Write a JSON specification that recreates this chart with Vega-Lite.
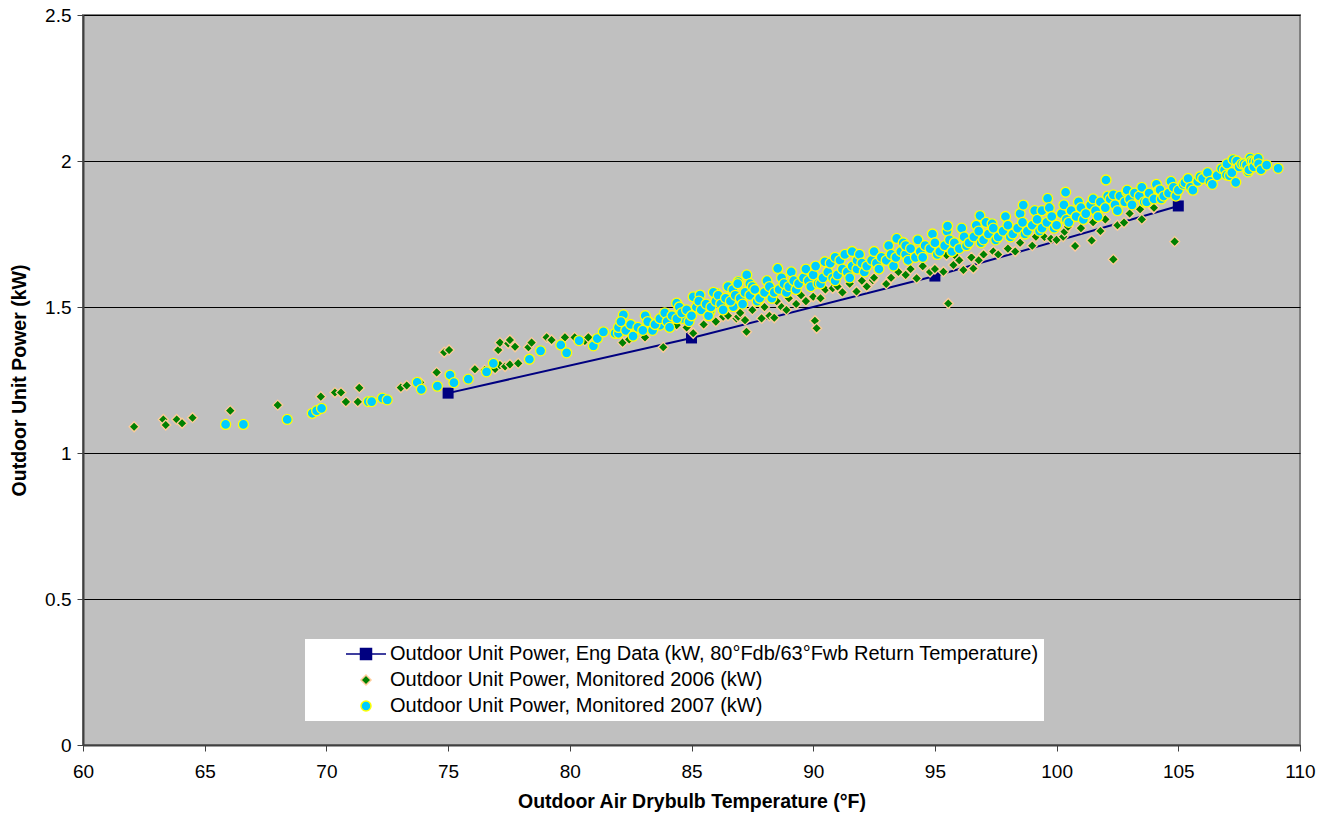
{
  "$schema": "https://vega.github.io/schema/vega-lite/v6.json",
  "width": 1217,
  "height": 730,
  "autosize": "none",
  "padding": {"left": 83, "top": 15, "right": 31, "bottom": 73},
  "background": "white",
  "config": {
    "view": {"fill": "#C0C0C0", "stroke": "#808080", "strokeWidth": 2},
    "font": "Liberation Sans"
  },
  "datasets": {
    "eng": [
      {"t": 75, "p": 1.205},
      {"t": 85, "p": 1.394},
      {"t": 95, "p": 1.606},
      {"t": 105, "p": 1.846}
    ],
    "mon": [
      {"t": 62.1, "p": 1.09, "s": "2006"},
      {"t": 63.3, "p": 1.115, "s": "2006"},
      {"t": 63.4, "p": 1.096, "s": "2006"},
      {"t": 63.85, "p": 1.115, "s": "2006"},
      {"t": 64.07, "p": 1.102, "s": "2006"},
      {"t": 64.5, "p": 1.121, "s": "2006"},
      {"t": 66.05, "p": 1.145, "s": "2006"},
      {"t": 68.0, "p": 1.164, "s": "2006"},
      {"t": 69.77, "p": 1.193, "s": "2006"},
      {"t": 70.35, "p": 1.207, "s": "2006"},
      {"t": 70.6, "p": 1.207, "s": "2006"},
      {"t": 71.35, "p": 1.223, "s": "2006"},
      {"t": 70.8, "p": 1.175, "s": "2006"},
      {"t": 71.29, "p": 1.175, "s": "2006"},
      {"t": 73.06, "p": 1.224, "s": "2006"},
      {"t": 73.3, "p": 1.231, "s": "2006"},
      {"t": 73.85, "p": 1.242, "s": "2006"},
      {"t": 74.53, "p": 1.276, "s": "2006"},
      {"t": 74.84, "p": 1.345, "s": "2006"},
      {"t": 75.04, "p": 1.353, "s": "2006"},
      {"t": 76.1, "p": 1.287, "s": "2006"},
      {"t": 76.5, "p": 1.284, "s": "2006"},
      {"t": 76.93, "p": 1.288, "s": "2006"},
      {"t": 77.13, "p": 1.301, "s": "2006"},
      {"t": 77.34, "p": 1.296, "s": "2006"},
      {"t": 77.54, "p": 1.303, "s": "2006"},
      {"t": 77.88, "p": 1.307, "s": "2006"},
      {"t": 77.06, "p": 1.353, "s": "2006"},
      {"t": 77.13, "p": 1.378, "s": "2006"},
      {"t": 77.47, "p": 1.375, "s": "2006"},
      {"t": 77.75, "p": 1.364, "s": "2006"},
      {"t": 77.54, "p": 1.387, "s": "2006"},
      {"t": 78.3, "p": 1.362, "s": "2006"},
      {"t": 78.43, "p": 1.378, "s": "2006"},
      {"t": 79.05, "p": 1.396, "s": "2006"},
      {"t": 79.25, "p": 1.387, "s": "2006"},
      {"t": 79.8, "p": 1.396, "s": "2006"},
      {"t": 80.2, "p": 1.396, "s": "2006"},
      {"t": 80.62, "p": 1.384, "s": "2006"},
      {"t": 80.76, "p": 1.396, "s": "2006"},
      {"t": 82.17, "p": 1.378, "s": "2006"},
      {"t": 82.44, "p": 1.389, "s": "2006"},
      {"t": 83.09, "p": 1.396, "s": "2006"},
      {"t": 83.84, "p": 1.362, "s": "2006"},
      {"t": 84.39, "p": 1.438, "s": "2006"},
      {"t": 84.8, "p": 1.43, "s": "2006"},
      {"t": 85.07, "p": 1.41, "s": "2006"},
      {"t": 85.5, "p": 1.44, "s": "2006"},
      {"t": 86.0, "p": 1.45, "s": "2006"},
      {"t": 86.3, "p": 1.467, "s": "2006"},
      {"t": 86.5, "p": 1.47, "s": "2006"},
      {"t": 86.85, "p": 1.461, "s": "2006"},
      {"t": 86.92, "p": 1.467, "s": "2006"},
      {"t": 87.0, "p": 1.48, "s": "2006"},
      {"t": 87.2, "p": 1.455, "s": "2006"},
      {"t": 87.26, "p": 1.415, "s": "2006"},
      {"t": 87.5, "p": 1.49, "s": "2006"},
      {"t": 87.88, "p": 1.461, "s": "2006"},
      {"t": 88.0, "p": 1.5, "s": "2006"},
      {"t": 88.2, "p": 1.47, "s": "2006"},
      {"t": 88.4, "p": 1.463, "s": "2006"},
      {"t": 88.5, "p": 1.52, "s": "2006"},
      {"t": 88.7, "p": 1.5, "s": "2006"},
      {"t": 88.9, "p": 1.49, "s": "2006"},
      {"t": 89.0, "p": 1.53, "s": "2006"},
      {"t": 89.3, "p": 1.51, "s": "2006"},
      {"t": 89.5, "p": 1.54, "s": "2006"},
      {"t": 89.7, "p": 1.52, "s": "2006"},
      {"t": 90.0, "p": 1.535, "s": "2006"},
      {"t": 90.07, "p": 1.453, "s": "2006"},
      {"t": 90.14, "p": 1.427, "s": "2006"},
      {"t": 90.3, "p": 1.53, "s": "2006"},
      {"t": 90.5, "p": 1.56, "s": "2006"},
      {"t": 90.8, "p": 1.564, "s": "2006"},
      {"t": 91.0, "p": 1.57, "s": "2006"},
      {"t": 91.2, "p": 1.55, "s": "2006"},
      {"t": 91.5, "p": 1.58, "s": "2006"},
      {"t": 91.78, "p": 1.553, "s": "2006"},
      {"t": 92.0, "p": 1.59, "s": "2006"},
      {"t": 92.2, "p": 1.57, "s": "2006"},
      {"t": 92.45, "p": 1.592, "s": "2006"},
      {"t": 92.5, "p": 1.6, "s": "2006"},
      {"t": 93.0, "p": 1.579, "s": "2006"},
      {"t": 93.2, "p": 1.6, "s": "2006"},
      {"t": 93.5, "p": 1.62, "s": "2006"},
      {"t": 93.8, "p": 1.61, "s": "2006"},
      {"t": 94.0, "p": 1.63, "s": "2006"},
      {"t": 94.25, "p": 1.598, "s": "2006"},
      {"t": 94.5, "p": 1.64, "s": "2006"},
      {"t": 94.8, "p": 1.62, "s": "2006"},
      {"t": 95.0, "p": 1.63, "s": "2006"},
      {"t": 95.35, "p": 1.621, "s": "2006"},
      {"t": 95.48, "p": 1.677, "s": "2006"},
      {"t": 95.55, "p": 1.512, "s": "2006"},
      {"t": 95.76, "p": 1.644, "s": "2006"},
      {"t": 95.89, "p": 1.671, "s": "2006"},
      {"t": 96.0, "p": 1.66, "s": "2006"},
      {"t": 96.17, "p": 1.627, "s": "2006"},
      {"t": 96.5, "p": 1.67, "s": "2006"},
      {"t": 96.58, "p": 1.632, "s": "2006"},
      {"t": 96.8, "p": 1.66, "s": "2006"},
      {"t": 97.0, "p": 1.68, "s": "2006"},
      {"t": 97.4, "p": 1.69, "s": "2006"},
      {"t": 97.6, "p": 1.68, "s": "2006"},
      {"t": 98.0, "p": 1.7, "s": "2006"},
      {"t": 98.3, "p": 1.69, "s": "2006"},
      {"t": 98.5, "p": 1.72, "s": "2006"},
      {"t": 99.0, "p": 1.71, "s": "2006"},
      {"t": 99.15, "p": 1.741, "s": "2006"},
      {"t": 99.5, "p": 1.74, "s": "2006"},
      {"t": 99.77, "p": 1.734, "s": "2006"},
      {"t": 100.0, "p": 1.73, "s": "2006"},
      {"t": 100.27, "p": 1.741, "s": "2006"},
      {"t": 100.33, "p": 1.758, "s": "2006"},
      {"t": 100.47, "p": 1.775, "s": "2006"},
      {"t": 100.76, "p": 1.709, "s": "2006"},
      {"t": 101.0, "p": 1.77, "s": "2006"},
      {"t": 101.44, "p": 1.728, "s": "2006"},
      {"t": 101.5, "p": 1.79, "s": "2006"},
      {"t": 101.8, "p": 1.76, "s": "2006"},
      {"t": 102.0, "p": 1.8, "s": "2006"},
      {"t": 102.33, "p": 1.663, "s": "2006"},
      {"t": 102.5, "p": 1.78, "s": "2006"},
      {"t": 102.77, "p": 1.789, "s": "2006"},
      {"t": 103.0, "p": 1.82, "s": "2006"},
      {"t": 103.43, "p": 1.835, "s": "2006"},
      {"t": 103.5, "p": 1.8, "s": "2006"},
      {"t": 103.98, "p": 1.838, "s": "2006"},
      {"t": 104.0, "p": 1.84, "s": "2006"},
      {"t": 104.85, "p": 1.724, "s": "2006"},
      {"t": 65.86, "p": 1.098, "s": "2007"},
      {"t": 66.59, "p": 1.098, "s": "2007"},
      {"t": 68.39, "p": 1.115, "s": "2007"},
      {"t": 69.42, "p": 1.136, "s": "2007"},
      {"t": 69.6, "p": 1.145, "s": "2007"},
      {"t": 69.8, "p": 1.153, "s": "2007"},
      {"t": 71.72, "p": 1.176, "s": "2007"},
      {"t": 71.86, "p": 1.176, "s": "2007"},
      {"t": 72.3, "p": 1.188, "s": "2007"},
      {"t": 72.5, "p": 1.182, "s": "2007"},
      {"t": 73.73, "p": 1.242, "s": "2007"},
      {"t": 73.9, "p": 1.218, "s": "2007"},
      {"t": 74.56, "p": 1.229, "s": "2007"},
      {"t": 75.08, "p": 1.267, "s": "2007"},
      {"t": 75.24, "p": 1.241, "s": "2007"},
      {"t": 75.83, "p": 1.253, "s": "2007"},
      {"t": 76.58, "p": 1.278, "s": "2007"},
      {"t": 76.86, "p": 1.307, "s": "2007"},
      {"t": 78.34, "p": 1.321, "s": "2007"},
      {"t": 78.8, "p": 1.35, "s": "2007"},
      {"t": 79.63, "p": 1.37, "s": "2007"},
      {"t": 79.87, "p": 1.343, "s": "2007"},
      {"t": 80.38, "p": 1.385, "s": "2007"},
      {"t": 80.97, "p": 1.367, "s": "2007"},
      {"t": 81.13, "p": 1.392, "s": "2007"},
      {"t": 81.38, "p": 1.415, "s": "2007"},
      {"t": 81.86, "p": 1.41, "s": "2007"},
      {"t": 82.2, "p": 1.473, "s": "2007"},
      {"t": 82.34, "p": 1.421, "s": "2007"},
      {"t": 82.75, "p": 1.427, "s": "2007"},
      {"t": 83.23, "p": 1.45, "s": "2007"},
      {"t": 83.71, "p": 1.438, "s": "2007"},
      {"t": 83.98, "p": 1.453, "s": "2007"},
      {"t": 84.39, "p": 1.513, "s": "2007"},
      {"t": 85.07, "p": 1.535, "s": "2007"},
      {"t": 85.35, "p": 1.541, "s": "2007"},
      {"t": 86.03, "p": 1.547, "s": "2007"},
      {"t": 86.58, "p": 1.57, "s": "2007"},
      {"t": 86.92, "p": 1.587, "s": "2007"},
      {"t": 87.27, "p": 1.61, "s": "2007"},
      {"t": 84.66, "p": 1.461, "s": "2007"},
      {"t": 85.76, "p": 1.484, "s": "2007"},
      {"t": 86.72, "p": 1.501, "s": "2007"},
      {"t": 82.0, "p": 1.41, "s": "2007"},
      {"t": 82.0, "p": 1.43, "s": "2007"},
      {"t": 82.1, "p": 1.45, "s": "2007"},
      {"t": 82.3, "p": 1.42, "s": "2007"},
      {"t": 82.5, "p": 1.44, "s": "2007"},
      {"t": 82.6, "p": 1.4, "s": "2007"},
      {"t": 82.8, "p": 1.43, "s": "2007"},
      {"t": 83.0, "p": 1.42, "s": "2007"},
      {"t": 83.1, "p": 1.47, "s": "2007"},
      {"t": 83.2, "p": 1.45, "s": "2007"},
      {"t": 83.4, "p": 1.42, "s": "2007"},
      {"t": 83.5, "p": 1.44, "s": "2007"},
      {"t": 83.7, "p": 1.46, "s": "2007"},
      {"t": 83.9, "p": 1.48, "s": "2007"},
      {"t": 84.0, "p": 1.45, "s": "2007"},
      {"t": 84.1, "p": 1.43, "s": "2007"},
      {"t": 84.2, "p": 1.47, "s": "2007"},
      {"t": 84.4, "p": 1.46, "s": "2007"},
      {"t": 84.5, "p": 1.5, "s": "2007"},
      {"t": 84.6, "p": 1.48, "s": "2007"},
      {"t": 84.8, "p": 1.49, "s": "2007"},
      {"t": 84.9, "p": 1.45, "s": "2007"},
      {"t": 85.0, "p": 1.47, "s": "2007"},
      {"t": 85.2, "p": 1.5, "s": "2007"},
      {"t": 85.3, "p": 1.52, "s": "2007"},
      {"t": 85.4, "p": 1.49, "s": "2007"},
      {"t": 85.6, "p": 1.51, "s": "2007"},
      {"t": 85.7, "p": 1.47, "s": "2007"},
      {"t": 85.8, "p": 1.5, "s": "2007"},
      {"t": 85.9, "p": 1.55, "s": "2007"},
      {"t": 86.0, "p": 1.52, "s": "2007"},
      {"t": 86.1, "p": 1.54, "s": "2007"},
      {"t": 86.2, "p": 1.51, "s": "2007"},
      {"t": 86.3, "p": 1.49, "s": "2007"},
      {"t": 86.4, "p": 1.53, "s": "2007"},
      {"t": 86.5, "p": 1.57, "s": "2007"},
      {"t": 86.6, "p": 1.52, "s": "2007"},
      {"t": 86.7, "p": 1.56, "s": "2007"},
      {"t": 86.8, "p": 1.54, "s": "2007"},
      {"t": 86.9, "p": 1.58, "s": "2007"},
      {"t": 87.0, "p": 1.53, "s": "2007"},
      {"t": 87.1, "p": 1.51, "s": "2007"},
      {"t": 87.2, "p": 1.55, "s": "2007"},
      {"t": 87.4, "p": 1.54, "s": "2007"},
      {"t": 87.4, "p": 1.58, "s": "2007"},
      {"t": 87.5, "p": 1.57, "s": "2007"},
      {"t": 87.6, "p": 1.56, "s": "2007"},
      {"t": 87.7, "p": 1.52, "s": "2007"},
      {"t": 87.8, "p": 1.53, "s": "2007"},
      {"t": 88.0, "p": 1.55, "s": "2007"},
      {"t": 88.1, "p": 1.59, "s": "2007"},
      {"t": 88.2, "p": 1.57, "s": "2007"},
      {"t": 88.3, "p": 1.53, "s": "2007"},
      {"t": 88.4, "p": 1.55, "s": "2007"},
      {"t": 88.54, "p": 1.632, "s": "2007"},
      {"t": 88.6, "p": 1.56, "s": "2007"},
      {"t": 88.7, "p": 1.6, "s": "2007"},
      {"t": 88.8, "p": 1.58, "s": "2007"},
      {"t": 88.9, "p": 1.55, "s": "2007"},
      {"t": 89.0, "p": 1.57, "s": "2007"},
      {"t": 89.1, "p": 1.62, "s": "2007"},
      {"t": 89.2, "p": 1.59, "s": "2007"},
      {"t": 89.3, "p": 1.56, "s": "2007"},
      {"t": 89.4, "p": 1.58, "s": "2007"},
      {"t": 89.6, "p": 1.6, "s": "2007"},
      {"t": 89.7, "p": 1.63, "s": "2007"},
      {"t": 89.8, "p": 1.59, "s": "2007"},
      {"t": 89.9, "p": 1.57, "s": "2007"},
      {"t": 90.0, "p": 1.61, "s": "2007"},
      {"t": 90.1, "p": 1.64, "s": "2007"},
      {"t": 90.2, "p": 1.58, "s": "2007"},
      {"t": 90.3, "p": 1.58, "s": "2007"},
      {"t": 90.4, "p": 1.6, "s": "2007"},
      {"t": 90.48, "p": 1.655, "s": "2007"},
      {"t": 90.6, "p": 1.62, "s": "2007"},
      {"t": 90.7, "p": 1.65, "s": "2007"},
      {"t": 90.8, "p": 1.6, "s": "2007"},
      {"t": 90.9, "p": 1.67, "s": "2007"},
      {"t": 90.9, "p": 1.59, "s": "2007"},
      {"t": 91.0, "p": 1.61, "s": "2007"},
      {"t": 91.1, "p": 1.66, "s": "2007"},
      {"t": 91.2, "p": 1.63, "s": "2007"},
      {"t": 91.3, "p": 1.68, "s": "2007"},
      {"t": 91.4, "p": 1.62, "s": "2007"},
      {"t": 91.5, "p": 1.6, "s": "2007"},
      {"t": 91.6, "p": 1.64, "s": "2007"},
      {"t": 91.6, "p": 1.69, "s": "2007"},
      {"t": 91.8, "p": 1.63, "s": "2007"},
      {"t": 91.8, "p": 1.66, "s": "2007"},
      {"t": 91.9, "p": 1.68, "s": "2007"},
      {"t": 92.0, "p": 1.65, "s": "2007"},
      {"t": 92.1, "p": 1.62, "s": "2007"},
      {"t": 92.2, "p": 1.64, "s": "2007"},
      {"t": 92.4, "p": 1.66, "s": "2007"},
      {"t": 92.5, "p": 1.69, "s": "2007"},
      {"t": 92.6, "p": 1.65, "s": "2007"},
      {"t": 92.7, "p": 1.63, "s": "2007"},
      {"t": 92.8, "p": 1.67, "s": "2007"},
      {"t": 93.0, "p": 1.66, "s": "2007"},
      {"t": 93.1, "p": 1.71, "s": "2007"},
      {"t": 93.2, "p": 1.68, "s": "2007"},
      {"t": 93.3, "p": 1.64, "s": "2007"},
      {"t": 93.4, "p": 1.67, "s": "2007"},
      {"t": 93.43, "p": 1.735, "s": "2007"},
      {"t": 93.6, "p": 1.69, "s": "2007"},
      {"t": 93.7, "p": 1.72, "s": "2007"},
      {"t": 93.8, "p": 1.68, "s": "2007"},
      {"t": 93.8, "p": 1.71, "s": "2007"},
      {"t": 93.9, "p": 1.66, "s": "2007"},
      {"t": 94.0, "p": 1.7, "s": "2007"},
      {"t": 94.2, "p": 1.67, "s": "2007"},
      {"t": 94.3, "p": 1.73, "s": "2007"},
      {"t": 94.4, "p": 1.69, "s": "2007"},
      {"t": 94.5, "p": 1.67, "s": "2007"},
      {"t": 94.6, "p": 1.71, "s": "2007"},
      {"t": 94.8, "p": 1.7, "s": "2007"},
      {"t": 94.9, "p": 1.75, "s": "2007"},
      {"t": 95.0, "p": 1.72, "s": "2007"},
      {"t": 95.1, "p": 1.68, "s": "2007"},
      {"t": 95.2, "p": 1.69, "s": "2007"},
      {"t": 95.4, "p": 1.71, "s": "2007"},
      {"t": 95.5, "p": 1.76, "s": "2007"},
      {"t": 95.52, "p": 1.777, "s": "2007"},
      {"t": 95.6, "p": 1.73, "s": "2007"},
      {"t": 95.7, "p": 1.69, "s": "2007"},
      {"t": 95.8, "p": 1.72, "s": "2007"},
      {"t": 96.0, "p": 1.7, "s": "2007"},
      {"t": 96.1, "p": 1.77, "s": "2007"},
      {"t": 96.2, "p": 1.74, "s": "2007"},
      {"t": 96.3, "p": 1.71, "s": "2007"},
      {"t": 96.4, "p": 1.72, "s": "2007"},
      {"t": 96.6, "p": 1.74, "s": "2007"},
      {"t": 96.7, "p": 1.78, "s": "2007"},
      {"t": 96.8, "p": 1.76, "s": "2007"},
      {"t": 96.85, "p": 1.813, "s": "2007"},
      {"t": 96.9, "p": 1.72, "s": "2007"},
      {"t": 97.0, "p": 1.73, "s": "2007"},
      {"t": 97.1, "p": 1.79, "s": "2007"},
      {"t": 97.2, "p": 1.75, "s": "2007"},
      {"t": 97.35, "p": 1.785, "s": "2007"},
      {"t": 97.4, "p": 1.77, "s": "2007"},
      {"t": 97.5, "p": 1.73, "s": "2007"},
      {"t": 97.6, "p": 1.74, "s": "2007"},
      {"t": 97.8, "p": 1.76, "s": "2007"},
      {"t": 97.9, "p": 1.81, "s": "2007"},
      {"t": 98.0, "p": 1.78, "s": "2007"},
      {"t": 98.1, "p": 1.74, "s": "2007"},
      {"t": 98.2, "p": 1.75, "s": "2007"},
      {"t": 98.4, "p": 1.77, "s": "2007"},
      {"t": 98.5, "p": 1.82, "s": "2007"},
      {"t": 98.6, "p": 1.79, "s": "2007"},
      {"t": 98.63, "p": 1.849, "s": "2007"},
      {"t": 98.7, "p": 1.75, "s": "2007"},
      {"t": 98.8, "p": 1.76, "s": "2007"},
      {"t": 99.0, "p": 1.78, "s": "2007"},
      {"t": 99.1, "p": 1.83, "s": "2007"},
      {"t": 99.2, "p": 1.8, "s": "2007"},
      {"t": 99.3, "p": 1.76, "s": "2007"},
      {"t": 99.4, "p": 1.77, "s": "2007"},
      {"t": 99.4, "p": 1.83, "s": "2007"},
      {"t": 99.6, "p": 1.79, "s": "2007"},
      {"t": 99.63, "p": 1.872, "s": "2007"},
      {"t": 99.7, "p": 1.84, "s": "2007"},
      {"t": 99.8, "p": 1.81, "s": "2007"},
      {"t": 99.9, "p": 1.77, "s": "2007"},
      {"t": 100.0, "p": 1.78, "s": "2007"},
      {"t": 100.2, "p": 1.82, "s": "2007"},
      {"t": 100.3, "p": 1.85, "s": "2007"},
      {"t": 100.37, "p": 1.893, "s": "2007"},
      {"t": 100.4, "p": 1.8, "s": "2007"},
      {"t": 100.5, "p": 1.79, "s": "2007"},
      {"t": 100.6, "p": 1.83, "s": "2007"},
      {"t": 100.8, "p": 1.81, "s": "2007"},
      {"t": 100.9, "p": 1.86, "s": "2007"},
      {"t": 101.0, "p": 1.84, "s": "2007"},
      {"t": 101.1, "p": 1.8, "s": "2007"},
      {"t": 101.2, "p": 1.82, "s": "2007"},
      {"t": 101.4, "p": 1.85, "s": "2007"},
      {"t": 101.5, "p": 1.87, "s": "2007"},
      {"t": 101.6, "p": 1.83, "s": "2007"},
      {"t": 101.7, "p": 1.81, "s": "2007"},
      {"t": 101.8, "p": 1.86, "s": "2007"},
      {"t": 102.0, "p": 1.84, "s": "2007"},
      {"t": 102.03, "p": 1.935, "s": "2007"},
      {"t": 102.1, "p": 1.88, "s": "2007"},
      {"t": 102.2, "p": 1.87, "s": "2007"},
      {"t": 102.33, "p": 1.884, "s": "2007"},
      {"t": 102.4, "p": 1.85, "s": "2007"},
      {"t": 102.5, "p": 1.83, "s": "2007"},
      {"t": 102.6, "p": 1.88, "s": "2007"},
      {"t": 102.8, "p": 1.86, "s": "2007"},
      {"t": 102.88, "p": 1.895, "s": "2007"},
      {"t": 102.9, "p": 1.9, "s": "2007"},
      {"t": 103.0, "p": 1.87, "s": "2007"},
      {"t": 103.1, "p": 1.85, "s": "2007"},
      {"t": 103.2, "p": 1.89, "s": "2007"},
      {"t": 103.4, "p": 1.88, "s": "2007"},
      {"t": 103.5, "p": 1.91, "s": "2007"},
      {"t": 103.6, "p": 1.86, "s": "2007"},
      {"t": 103.7, "p": 1.86, "s": "2007"},
      {"t": 103.8, "p": 1.89, "s": "2007"},
      {"t": 104.0, "p": 1.87, "s": "2007"},
      {"t": 104.1, "p": 1.92, "s": "2007"},
      {"t": 104.2, "p": 1.9, "s": "2007"},
      {"t": 104.25, "p": 1.901, "s": "2007"},
      {"t": 104.3, "p": 1.87, "s": "2007"},
      {"t": 104.4, "p": 1.88, "s": "2007"},
      {"t": 104.6, "p": 1.89, "s": "2007"},
      {"t": 104.7, "p": 1.93, "s": "2007"},
      {"t": 104.8, "p": 1.91, "s": "2007"},
      {"t": 104.9, "p": 1.88, "s": "2007"},
      {"t": 105.0, "p": 1.9, "s": "2007"},
      {"t": 105.2, "p": 1.92, "s": "2007"},
      {"t": 105.27, "p": 1.926, "s": "2007"},
      {"t": 105.4, "p": 1.94, "s": "2007"},
      {"t": 105.5, "p": 1.91, "s": "2007"},
      {"t": 105.6, "p": 1.9, "s": "2007"},
      {"t": 105.8, "p": 1.93, "s": "2007"},
      {"t": 105.89, "p": 1.946, "s": "2007"},
      {"t": 106.0, "p": 1.94, "s": "2007"},
      {"t": 106.2, "p": 1.96, "s": "2007"},
      {"t": 106.3, "p": 1.93, "s": "2007"},
      {"t": 106.4, "p": 1.92, "s": "2007"},
      {"t": 106.6, "p": 1.95, "s": "2007"},
      {"t": 106.78, "p": 1.974, "s": "2007"},
      {"t": 106.9, "p": 1.97, "s": "2007"},
      {"t": 106.98, "p": 1.952, "s": "2007"},
      {"t": 107.0, "p": 1.99, "s": "2007"},
      {"t": 107.1, "p": 1.95, "s": "2007"},
      {"t": 107.2, "p": 1.96, "s": "2007"},
      {"t": 107.25, "p": 2.005, "s": "2007"},
      {"t": 107.36, "p": 1.927, "s": "2007"},
      {"t": 107.4, "p": 2.0, "s": "2007"},
      {"t": 107.5, "p": 1.98, "s": "2007"},
      {"t": 107.6, "p": 1.99, "s": "2007"},
      {"t": 107.7, "p": 1.99, "s": "2007"},
      {"t": 107.8, "p": 1.986, "s": "2007"},
      {"t": 107.87, "p": 1.963, "s": "2007"},
      {"t": 107.9, "p": 1.97, "s": "2007"},
      {"t": 107.95, "p": 2.01, "s": "2007"},
      {"t": 108.0, "p": 2.0, "s": "2007"},
      {"t": 108.08, "p": 1.998, "s": "2007"},
      {"t": 108.1, "p": 1.98, "s": "2007"},
      {"t": 108.2, "p": 2.0, "s": "2007"},
      {"t": 108.28, "p": 2.009, "s": "2007"},
      {"t": 108.3, "p": 1.99, "s": "2007"},
      {"t": 108.4, "p": 1.97, "s": "2007"},
      {"t": 108.63, "p": 1.986, "s": "2007"},
      {"t": 109.1, "p": 1.975, "s": "2007"}
    ]
  },
  "layer": [
    {
      "data": {"name": "eng"},
      "mark": {"type": "line", "color": "#000080", "strokeWidth": 2},
      "encoding": {
        "x": {
          "field": "t", "type": "quantitative",
          "scale": {"domain": [60, 110], "nice": false, "zero": false},
          "axis": {
            "values": [60, 65, 70, 75, 80, 85, 90, 95, 100, 105, 110],
            "grid": false,
            "labelFlush": false,
            "tickColor": "#404040", "tickSize": 6,
            "domainColor": "#404040", "domainWidth": 2,
            "labelFontSize": 19, "labelColor": "black", "labelPadding": 11,
            "title": "Outdoor Air Drybulb Temperature (°F)",
            "titleFontSize": 19.5, "titleFontWeight": "bold", "titleColor": "black", "titlePadding": 11
          }
        },
        "y": {
          "field": "p", "type": "quantitative",
          "scale": {"domain": [0, 2.5], "nice": false},
          "axis": {
            "values": [0, 0.5, 1, 1.5, 2, 2.5],
            "format": "~g",
            "grid": true, "gridColor": "black", "gridWidth": 1, "gridOpacity": 1,
            "tickColor": "#404040", "tickSize": 6,
            "domainColor": "#404040", "domainWidth": 2,
            "labelFontSize": 19, "labelColor": "black", "labelPadding": 6,
            "title": "Outdoor Unit Power (kW)",
            "titleFontSize": 19.5, "titleFontWeight": "bold", "titleColor": "black", "titlePadding": 15
          }
        }
      }
    },
    {
      "data": {"name": "eng"},
      "mark": {"type": "point", "shape": "square", "filled": true, "color": "#000080", "size": 121, "opacity": 1},
      "encoding": {
        "x": {"field": "t", "type": "quantitative"},
        "y": {"field": "p", "type": "quantitative"}
      }
    },
    {
      "data": {"name": "mon"},
      "mark": {"type": "point", "filled": true, "opacity": 1, "strokeWidth": 1.3},
      "encoding": {
        "x": {"field": "t", "type": "quantitative"},
        "y": {"field": "p", "type": "quantitative"},
        "color": {
          "field": "s", "type": "nominal",
          "scale": {"domain": ["Eng", "2006", "2007"], "range": ["#000080", "#008000", "#00CCFF"]},
          "legend": {
            "title": null,
            "orient": "none",
            "legendX": 222,
            "legendY": 624,
            "fillColor": "white",
            "padding": 5,
            "symbolOffset": 46,
            "labelOffset": 14,
            "rowPadding": 6,
            "labelFontSize": 20,
            "labelColor": "black",
            "labelLimit": 900,
            "labelExpr": "datum.value == 'Eng' ? 'Outdoor Unit Power, Eng Data (kW, 80°Fdb/63°Fwb Return Temperature)' : 'Outdoor Unit Power, Monitored ' + datum.value + ' (kW)'",
            "encode": {
              "symbols": {
                "update": {
                  "stroke": {"scale": "color", "field": "value"},
                  "strokeWidth": {"value": 2}
                }
              }
            }
          }
        },
        "shape": {
          "field": "s", "type": "nominal",
          "scale": {"domain": ["Eng", "2006", "2007"], "range": ["M-4,0H4M-1.1,-1.1H1.1V1.1H-1.1Z", "diamond", "circle"]}
        },
        "stroke": {
          "field": "s", "type": "nominal",
          "scale": {"domain": ["Eng", "2006", "2007"], "range": ["#000080", "#FFCC99", "#FFFF00"]},
          "legend": null
        },
        "size": {
          "field": "s", "type": "nominal",
          "scale": {"domain": ["Eng", "2006", "2007"], "range": [100, 100, 115]},
          "legend": null
        }
      }
    }
  ]
}
